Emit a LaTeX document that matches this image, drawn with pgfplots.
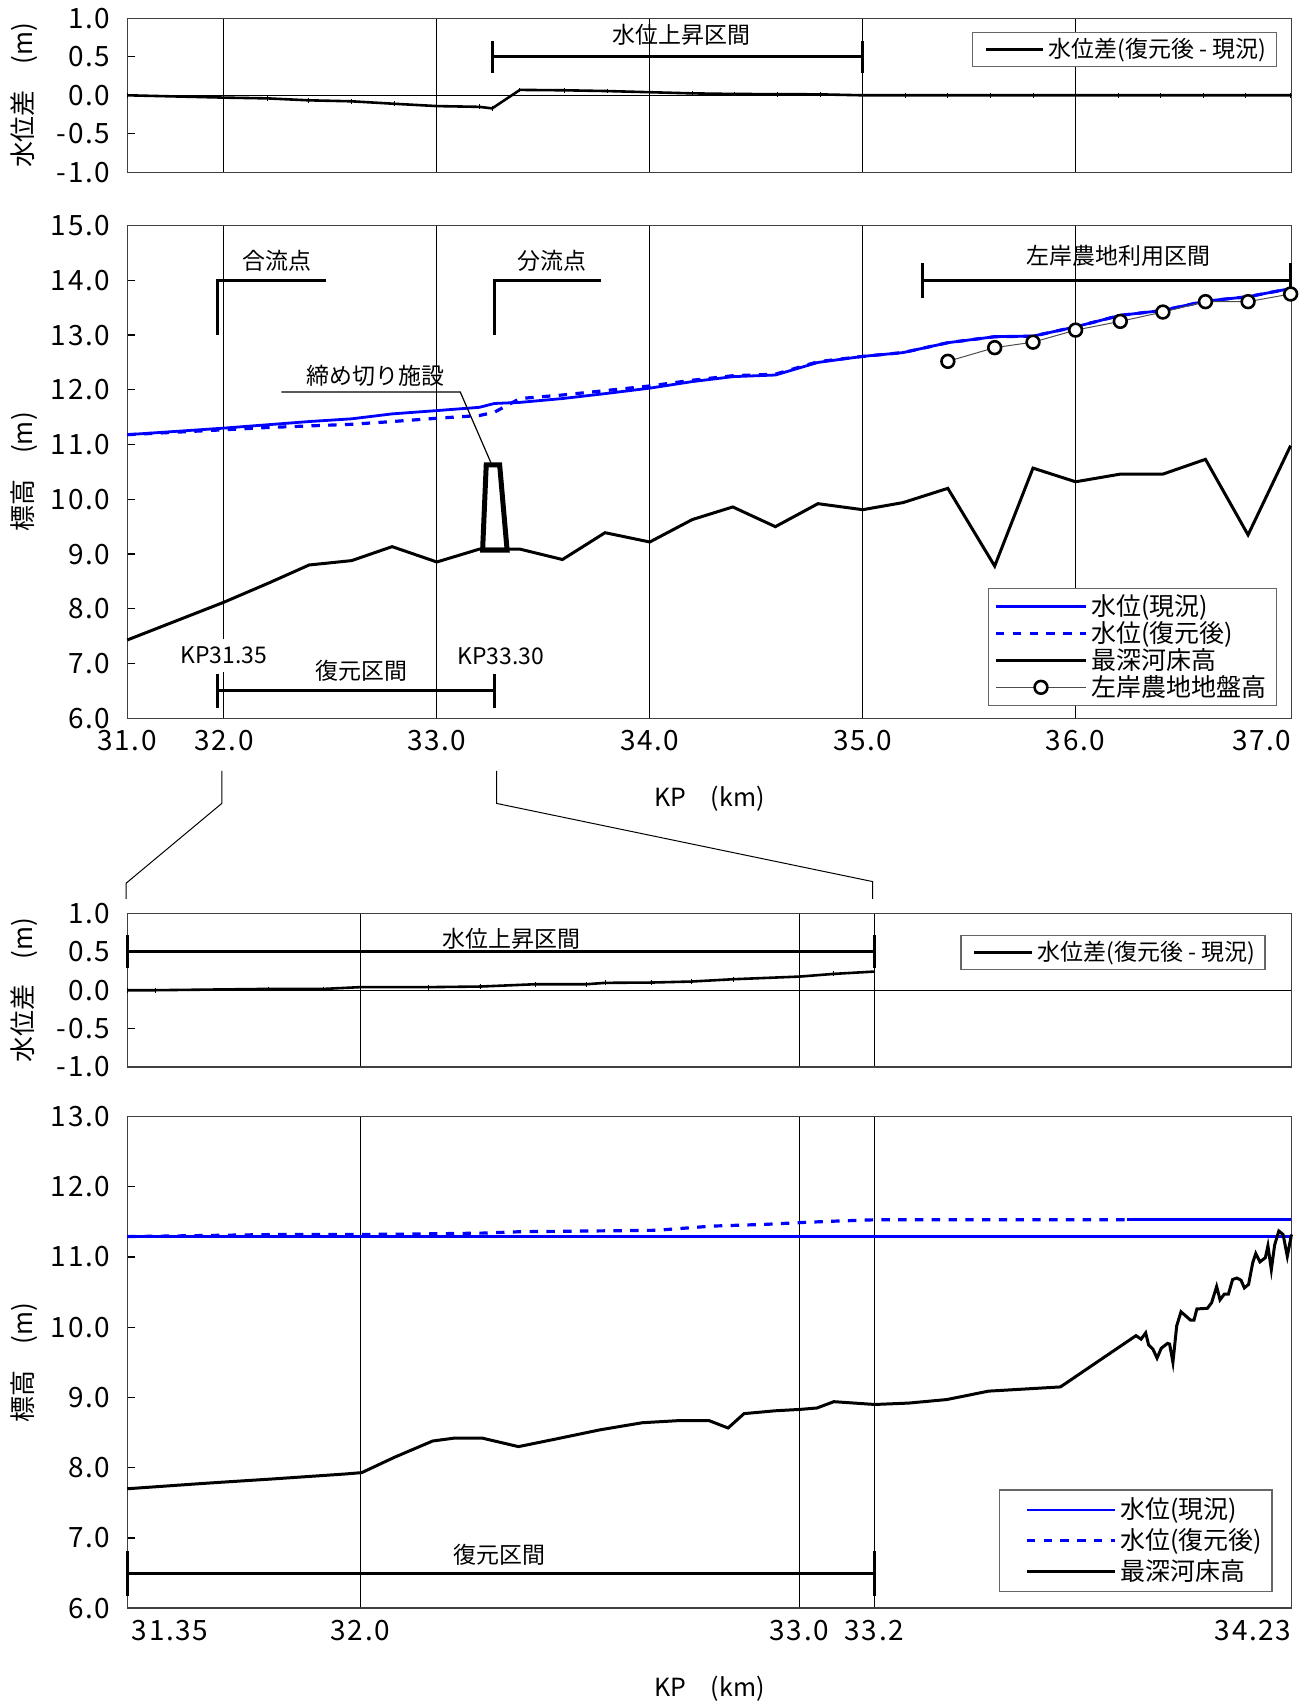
\documentclass[border=0pt]{standalone}
\usepackage{fontspec}
\setmainfont{Noto Sans CJK JP}
\newfontfamily\numfont[LetterSpace=6]{Noto Sans CJK JP}
\usepackage{pgfplots}
\pgfplotsset{compat=1.18}
\definecolor{wblue}{RGB}{0,0,255}
\tikzset{ann/.style={font=\fontsize{11.5}{13}\selectfont}}
\pgfplotsset{
  base/.style={
    scale only axis, width=583.25pt, anchor=south west,
    xmajorgrids, major grid style={black, line width=0.45pt},
    axis line style={black!75, line width=0.7pt},
    tick align=inside, ytick pos=left, xtick pos=bottom,
    major tick length=4pt,
    xtick style={draw=none},
    ytick style={black, line width=0.6pt},
    tick label style={font=\numfont\fontsize{14}{16}\selectfont},
    yticklabel style={xshift=-5pt},
    xticklabel style={yshift=-2.5pt},
    clip=false,
    legend cell align=left,
    ylabel style={at={(axis description cs:-0.0887,0.5)},anchor=center,font=\fontsize{13}{15}\selectfont},
  },
}
\begin{document}
\begin{tikzpicture}
\path (0pt,0pt) rectangle (656pt,854pt);

% ---------------- A1 ----------------
\begin{axis}[base, at={(63.75pt,767.65pt)}, height=77.2pt,
  xmin=31.546, xmax=37.014, ymin=-1, ymax=1,
  xtick={32,33,34,35,36}, xticklabels={},
  ytick={-1,-0.5,0,0.5,1}, yticklabels={-1.0,-0.5,0.0,0.5,1.0},
  extra y ticks={0}, extra y tick labels={}, extra y tick style={grid=major},
  ylabel={水位差　(m)},
  legend style={at={(0.9873,0.913)},anchor=north east, draw=black!60, line width=0.6pt,
    font=\fontsize{11.5}{13}\selectfont, inner xsep=3pt, inner ysep=1pt},
  legend image code/.code={\path (0pt,0pt); \draw[#1] (3pt,0pt) -- (32pt,0pt);},
]
\addplot[black, line width=1.3pt, mark=|, mark size=1.2pt, mark options={line width=0.5pt}] coordinates {
(31.546,0) (32.0,-0.03) (32.205,-0.04) (32.396,-0.065) (32.6,-0.078) (32.8,-0.11) (33.0,-0.14) (33.2,-0.15) (33.26,-0.17)
(33.39,0.07) (33.6,0.065) (33.8,0.055) (34.0,0.04) (34.2,0.025) (34.4,0.017) (34.6,0.015) (34.8,0.012) (35.0,0.0)
(35.2,0) (35.4,0) (35.6,0) (35.8,0) (36.0,0) (36.2,0) (36.4,0) (36.6,0) (36.8,0) (37.01,0)};
\addlegendentry{水位差(復元後 - 現況)}
\draw[line width=1.5pt] (axis cs:33.26,0.5) -- (axis cs:35.0,0.5);
\draw[line width=1.5pt] (axis cs:33.26,0.29) -- (axis cs:33.26,0.71);
\draw[line width=1.5pt] (axis cs:35.0,0.29) -- (axis cs:35.0,0.71);
\node[ann] at (axis cs:34.15,0.78) {水位上昇区間};
\end{axis}

% ---------------- A2 ----------------
\begin{axis}[base, at={(63.75pt,494.15pt)}, height=246.85pt,
  xmin=31.546, xmax=37.014, ymin=6, ymax=15,
  xtick={31.546,32,33,34,35,36,37.014}, xticklabels={31.0,32.0,33.0,34.0,35.0,36.0,\llap{37.0}},
  ytick={6,7,8,9,10,11,12,13,14,15}, yticklabels={6.0,7.0,8.0,9.0,10.0,11.0,12.0,13.0,14.0,15.0},
  ylabel={標高　(m)},
  xlabel={KP　(km)}, xlabel style={at={(axis description cs:0.5,-0.1627)},anchor=center,font=\fontsize{12.5}{14}\selectfont},
  legend style={at={(0.9873,0.2647)},anchor=north east, draw=black!60, line width=0.6pt,
    font=\fontsize{12.5}{13}\selectfont, inner xsep=3pt, inner ysep=1pt, row sep=-2.5pt},
  legend image code/.code={\draw[mark repeat=2,mark phase=2,#1] plot coordinates {(0pt,0pt) (22.5pt,0pt) (45pt,0pt)};},
]
\addplot[wblue, line width=1.4pt] coordinates {
(31.546,11.18) (32.0,11.30) (32.2,11.36) (32.4,11.42) (32.6,11.47) (32.79,11.56) (33.0,11.62) (33.2,11.68) (33.27,11.75)
(33.39,11.77) (33.59,11.84) (33.79,11.93) (34.0,12.03) (34.2,12.15) (34.39,12.24) (34.59,12.27) (34.79,12.50) (35.0,12.61)
(35.19,12.68) (35.4,12.86) (35.62,12.97) (35.8,12.98) (36.0,13.15) (36.21,13.36) (36.41,13.45) (36.61,13.62) (36.81,13.70) (37.01,13.85)};
\addlegendentry{水位(現況)}
\addplot[wblue, line width=1.6pt, dash pattern=on 4.2pt off 4.2pt] coordinates {
(31.546,11.18) (32.0,11.27) (32.2,11.31) (32.4,11.34) (32.6,11.37) (32.79,11.42) (33.0,11.48) (33.2,11.53) (33.27,11.59)
(33.39,11.84) (33.59,11.905) (33.79,11.985) (34.0,12.07) (34.2,12.175) (34.39,12.257) (34.59,12.285) (34.79,12.513) (35.0,12.61)
(35.19,12.68) (35.4,12.86) (35.62,12.97) (35.8,12.98) (36.0,13.15) (36.21,13.36) (36.41,13.45) (36.61,13.62) (36.81,13.70) (37.01,13.85)};
\addlegendentry{水位(復元後)}
\addplot[black, line width=1.5pt] coordinates {
(31.546,7.43) (32.0,8.12) (32.21,8.47) (32.4,8.80) (32.6,8.88) (32.79,9.135) (33.0,8.855) (33.2,9.09) (33.39,9.09)
(33.59,8.90) (33.79,9.39) (34.0,9.22) (34.2,9.63) (34.39,9.86) (34.59,9.50) (34.79,9.92) (35.0,9.81) (35.19,9.94)
(35.4,10.20) (35.62,8.78) (35.8,10.57) (36.0,10.32) (36.21,10.46) (36.41,10.46) (36.61,10.73) (36.81,9.35) (37.01,10.98)};
\addlegendentry{最深河床高}
\addplot[black!70, line width=0.5pt, mark=*, mark size=3.2pt, mark options={draw=black, fill=white, line width=1.3pt}] coordinates {
(35.4,12.52) (35.62,12.77) (35.8,12.87) (36.0,13.09) (36.21,13.25) (36.41,13.42) (36.61,13.61) (36.81,13.61) (37.01,13.75)};
\addlegendentry{左岸農地地盤高}
% annotations
\draw[line width=1.5pt] (axis cs:31.97,13.0) -- (axis cs:31.97,14.0) -- (axis cs:32.48,14.0);
\node[ann] at (axis cs:32.25,14.36) {合流点};
\draw[line width=1.5pt] (axis cs:33.27,13.0) -- (axis cs:33.27,14.0) -- (axis cs:33.77,14.0);
\node[ann] at (axis cs:33.54,14.36) {分流点};
\draw[line width=1.5pt] (axis cs:35.28,14.0) -- (axis cs:37.01,14.0);
\draw[line width=1.5pt] (axis cs:35.28,13.68) -- (axis cs:35.28,14.32);
\draw[line width=1.5pt] (axis cs:37.01,13.68) -- (axis cs:37.01,14.32);
\node[ann] at (axis cs:36.2,14.44) {左岸農地利用区間};
\node[ann] at (axis cs:32.71,12.26) {締め切り施設};
\draw[line width=0.6pt] (axis cs:32.27,11.96) -- (axis cs:33.11,11.96) -- (axis cs:33.256,10.65);
\draw[line width=2.5pt, line join=miter] (axis cs:33.215,9.07) -- (axis cs:33.232,10.63) -- (axis cs:33.295,10.63) -- (axis cs:33.33,9.07) -- cycle;
\draw[line width=1.5pt] (axis cs:31.97,6.5) -- (axis cs:33.27,6.5);
\draw[line width=1.5pt] (axis cs:31.97,6.19) -- (axis cs:31.97,6.81);
\draw[line width=1.5pt] (axis cs:33.27,6.19) -- (axis cs:33.27,6.81);
\node[ann] at (axis cs:32.645,6.86) {復元区間};
\node[ann, fill=white, inner sep=4pt] at (axis cs:32.0,7.15) {KP31.35};
\node[ann] at (axis cs:33.30,7.14) {KP33.30};
\end{axis}

% ---------------- A3 ----------------
\begin{axis}[base, at={(63.75pt,319.5pt)}, height=76.85pt,
  xmin=0, xmax=1166.5, ymin=-1, ymax=1,
  xtick={233.5,673.5,748.5}, xticklabels={},
  ytick={-1,-0.5,0,0.5,1}, yticklabels={-1.0,-0.5,0.0,0.5,1.0},
  extra y ticks={0}, extra y tick labels={}, extra y tick style={grid=major},
  ylabel={水位差　(m)},
  legend style={at={(0.9777,0.861)},anchor=north east, draw=black!60, line width=0.6pt,
    font=\fontsize{11.5}{13}\selectfont, inner xsep=3pt, inner ysep=1pt},
  legend image code/.code={\path (0pt,0pt); \draw[#1] (3pt,0pt) -- (32pt,0pt);},
]
\addplot[black, line width=1.3pt, mark=|, mark size=1.2pt, mark options={line width=0.5pt}] coordinates {
(0,0) (28,0) (142,0.017) (197,0.017) (233.5,0.04) (302,0.04) (354,0.048) (409,0.078) (460,0.078) (479,0.096)
(525,0.10) (565,0.113) (607,0.143) (674,0.178) (708,0.213) (748.5,0.243)};
\addlegendentry{水位差(復元後 - 現況)}
\draw[line width=1.5pt] (axis cs:0,0.5) -- (axis cs:748.5,0.5);
\draw[line width=1.5pt] (axis cs:0,0.29) -- (axis cs:0,0.72);
\draw[line width=1.5pt] (axis cs:748.5,0.29) -- (axis cs:748.5,0.72);
\node[ann] at (axis cs:385,0.67) {水位上昇区間};
\end{axis}

% ---------------- A4 ----------------
\begin{axis}[base, at={(63.75pt,48.35pt)}, height=246.3pt,
  xmin=0, xmax=1166.5, ymin=6, ymax=13,
  xtick={0,233.5,673.5,748.5,1166.5}, xticklabels={\rlap{\,31.35},32.0,33.0,33.2,\llap{34.23}},
  ytick={6,7,8,9,10,11,12,13}, yticklabels={6.0,7.0,8.0,9.0,10.0,11.0,12.0,13.0},
  ylabel={標高　(m)},
  xlabel={KP　(km)}, xlabel style={at={(axis description cs:0.5,-0.1638)},anchor=center,font=\fontsize{12.5}{14}\selectfont},
  legend style={at={(0.9837,0.2416)},anchor=north east, draw=black!60, line width=0.6pt,
    font=\fontsize{12.5}{13}\selectfont, inner xsep=3pt, inner ysep=2pt, row sep=-0.5pt},
  legend image code/.code={\path (0pt,0pt); \draw[#1] (10pt,0pt) -- (54pt,0pt);},
]
\addplot[wblue, line width=1.4pt] coordinates {(0,11.29) (1166.5,11.29)};
\addlegendentry{水位(現況)}
\addplot[wblue, line width=1.6pt, dash pattern=on 4.2pt off 4.2pt] coordinates {
(0,11.29) (146,11.32) (234,11.32) (306,11.33) (356,11.34) (394,11.36) (462,11.37) (530,11.38) (586,11.44)
(640,11.465) (674,11.49) (708,11.51) (749,11.53) (1002,11.53)};
\addlegendentry{水位(復元後)}
\addplot[black, line width=1.5pt] coordinates {
(0,7.70) (70,7.77) (91,7.79) (146,7.84) (218,7.91) (235,7.93) (268,8.15) (306,8.38) (327,8.42) (356,8.42) (392,8.30)
(430,8.41) (474,8.54) (516,8.64) (552,8.67) (583,8.67) (602,8.565) (618,8.77) (649,8.81) (674,8.83) (691,8.85)
(708,8.94) (749,8.90) (783,8.92) (821,8.97) (863,9.09) (935,9.15)
(1010.7,9.88) (1015.8,9.83) (1020.4,9.92) (1023.3,9.75) (1027.6,9.69) (1031.8,9.56) (1036,9.70) (1042.3,9.77) (1044.4,9.76)
(1047.7,9.50) (1051.5,10.02) (1055.8,10.22) (1065.4,10.10) (1068.8,10.10) (1071.7,10.26) (1082.3,10.27) (1086.5,10.35)
(1091.5,10.58) (1094.9,10.39) (1099.1,10.47) (1103.3,10.47) (1107.5,10.68) (1111.7,10.70) (1115.9,10.67) (1119.3,10.56)
(1123.5,10.61) (1127.7,10.92) (1130.7,11.05) (1134.9,10.93) (1140.3,10.99) (1142.9,11.16) (1146.3,10.82) (1149.6,11.17)
(1153.8,11.37) (1158.1,11.32) (1162.3,11.01) (1166.5,11.32)};
\addlegendentry{最深河床高}
\addplot[wblue, line width=1.6pt, forget plot] coordinates {(1002,11.53) (1166.5,11.53)};
\draw[line width=1.5pt] (axis cs:0,6.49) -- (axis cs:748.5,6.49);
\draw[line width=1.5pt] (axis cs:0,6.18) -- (axis cs:0,6.81);
\draw[line width=1.5pt] (axis cs:748.5,6.18) -- (axis cs:748.5,6.81);
\node[ann] at (axis cs:373,6.76) {復元区間};
\end{axis}

% connectors
\draw[line width=0.5pt] (111.1pt,467.85pt) -- (111.1pt,451.5pt) -- (63.15pt,411.5pt) -- (63.15pt,403.65pt);
\draw[line width=0.5pt] (248.75pt,467.85pt) -- (248.75pt,451.5pt) -- (437.15pt,412.35pt) -- (437.15pt,403.65pt);
\end{tikzpicture}
\end{document}
